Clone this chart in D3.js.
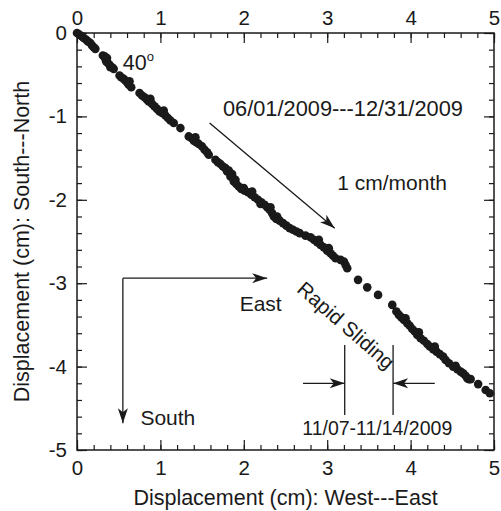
<!DOCTYPE html>
<html>
<head>
<meta charset="utf-8">
<script src="https://cdn.jsdelivr.net/npm/d3@7"></script>
<style>
  body { margin: 0; background: #fff; }
  text { font-family: 'Liberation Sans', Arial, Helvetica, sans-serif; fill: #1a1a1a; }
</style>
</head>
<body>
<script>
// displacement (cm)
const eastCm = [
  0.00, 0.03, 0.06, 0.08, 0.11, 0.13, 0.16, 0.18, 0.20, 0.22,
  0.31, 0.33, 0.34, 0.35, 0.36, 0.37, 0.39, 0.40, 0.42, 0.44,
  0.51, 0.53, 0.56, 0.58, 0.60, 0.62, 0.63, 0.65,
  0.75, 0.78, 0.81, 0.84, 0.86, 0.88, 0.90, 0.93, 0.96, 0.99, 1.02, 1.04, 1.06, 1.09, 1.12,
  1.16, 1.24,
  1.34, 1.37, 1.40, 1.42, 1.43, 1.46, 1.50, 1.53, 1.56, 1.58,
  1.66, 1.69, 1.72, 1.75, 1.78, 1.80, 1.82, 1.84, 1.86, 1.87, 1.88, 1.90, 1.91, 1.94, 1.97,
  2.00, 2.01, 2.05, 2.09, 2.10, 2.13, 2.17, 2.20, 2.21, 2.25, 2.28, 2.31, 2.32, 2.34, 2.36, 2.39,
  2.40, 2.43, 2.47, 2.51, 2.55, 2.59, 2.63, 2.67, 2.74, 2.80, 2.84, 2.88, 2.90, 2.92,
  2.96, 3.00, 3.02, 3.04, 3.07, 3.10, 3.16, 3.20, 3.22, 3.24,
  3.37, 3.48, 3.61, 3.78,
  3.83, 3.86, 3.89, 3.92, 3.94, 3.96, 3.99, 4.02, 4.05, 4.08, 4.10, 4.12, 4.16, 4.20,
  4.23, 4.27, 4.29, 4.31, 4.35, 4.39, 4.42, 4.46, 4.51, 4.54, 4.56, 4.60, 4.63, 4.66,
  4.68, 4.70, 4.72, 4.81, 4.90, 4.95
];
const northCm = [
  0.00, -0.02, -0.04, -0.06, -0.08, -0.10, -0.12, -0.15, -0.17, -0.19,
  -0.27, -0.28, -0.31, -0.34, -0.30, -0.36, -0.38, -0.41, -0.41, -0.43,
  -0.51, -0.53, -0.55, -0.57, -0.59, -0.62, -0.58, -0.65,
  -0.72, -0.75, -0.77, -0.80, -0.82, -0.79, -0.85, -0.88, -0.91, -0.94, -0.96, -0.93, -0.99, -1.02, -1.05,
  -1.08, -1.14,
  -1.24, -1.26, -1.29, -1.25, -1.31, -1.33, -1.36, -1.40, -1.43, -1.46,
  -1.52, -1.55, -1.57, -1.60, -1.62, -1.66, -1.65, -1.72, -1.69, -1.74, -1.78, -1.76, -1.81, -1.84, -1.87,
  -1.86, -1.89, -1.91, -1.94, -1.90, -1.97, -2.00, -2.05, -2.03, -2.06, -2.09, -2.12, -2.09, -2.16, -2.20, -2.23,
  -2.20, -2.25, -2.28, -2.31, -2.34, -2.36, -2.38, -2.40, -2.43, -2.45, -2.48, -2.51, -2.48, -2.54,
  -2.57, -2.61, -2.58, -2.64, -2.67, -2.70, -2.72, -2.74, -2.78, -2.82,
  -2.96, -3.05, -3.14, -3.26,
  -3.34, -3.38, -3.41, -3.44, -3.42, -3.48, -3.51, -3.55, -3.58, -3.62, -3.59, -3.66, -3.69, -3.73,
  -3.76, -3.79, -3.76, -3.82, -3.85, -3.88, -3.92, -3.96, -4.00, -3.99, -4.03, -4.06, -4.08, -4.11,
  -4.14, -4.15, -4.15, -4.21, -4.28, -4.32
];

const xTicks = [0, 1, 2, 3, 4, 5];
const yTicks = [0, -1, -2, -3, -4, -5];

const width = 501;
const height = 511;
const plotL = 77, plotR = 494, plotT = 33, plotB = 450;

const svg = d3.select('body').append('svg')
  .attr('width', width)
  .attr('height', height);

const x = d3.scaleLinear().domain([0, 5]).range([plotL, plotR]);
const y = d3.scaleLinear().domain([-5, 0]).range([plotB, plotT]);

// arrow heads
const defs = svg.append('defs');
defs.append('marker')
  .attr('id', 'head')
  .attr('markerUnits', 'userSpaceOnUse')
  .attr('viewBox', '-16 -6 17 12')
  .attr('markerWidth', 17)
  .attr('markerHeight', 12)
  .attr('refX', 0)
  .attr('refY', 0)
  .attr('orient', 'auto')
  .append('path')
  .attr('d', 'M0,0 L-15,-5 L-11,0 L-15,5 Z')
  .attr('fill', '#1a1a1a');

// axes, ticks pointing inward
const minorX = x.ticks(25);
const minorY = y.ticks(25);

function styleAxis(g) {
  g.selectAll('.domain').remove();
  g.selectAll('line').attr('stroke', '#1a1a1a').attr('stroke-width', 1.2);
  g.selectAll('text').attr('font-size', 20.5).attr('fill', '#1a1a1a');
}

svg.append('g').attr('transform', `translate(0,${plotB})`)
  .call(d3.axisBottom(x).tickValues(minorX).tickSize(-5).tickFormat(''))
  .call(styleAxis);
svg.append('g').attr('transform', `translate(0,${plotB})`)
  .call(d3.axisBottom(x).tickValues(xTicks).tickSize(-10).tickPadding(10).tickFormat(d3.format('d')))
  .call(styleAxis);

svg.append('g').attr('transform', `translate(0,${plotT})`)
  .call(d3.axisTop(x).tickValues(minorX).tickSize(-5).tickFormat(''))
  .call(styleAxis);
svg.append('g').attr('transform', `translate(0,${plotT})`)
  .call(d3.axisTop(x).tickValues(xTicks).tickSize(-10).tickPadding(8).tickFormat(d3.format('d')))
  .call(styleAxis);

svg.append('g').attr('transform', `translate(${plotL},0)`)
  .call(d3.axisLeft(y).tickValues(minorY).tickSize(-5).tickFormat(''))
  .call(styleAxis);
svg.append('g').attr('transform', `translate(${plotL},0)`)
  .call(d3.axisLeft(y).tickValues(yTicks).tickSize(-10).tickPadding(10).tickFormat(d => d === 0 ? '0' : '-' + Math.abs(d)))
  .call(styleAxis);

svg.append('g').attr('transform', `translate(${plotR},0)`)
  .call(d3.axisRight(y).tickValues(minorY).tickSize(-5).tickFormat(''))
  .call(styleAxis);
svg.append('g').attr('transform', `translate(${plotR},0)`)
  .call(d3.axisRight(y).tickValues(yTicks).tickSize(-10).tickFormat(''))
  .call(styleAxis);

// frame
svg.append('rect')
  .attr('x', plotL).attr('y', plotT)
  .attr('width', plotR - plotL).attr('height', plotB - plotT)
  .attr('fill', 'none')
  .attr('stroke', '#1a1a1a')
  .attr('stroke-width', 1.5);

// axis titles
svg.append('text')
  .attr('x', (plotL + plotR) / 2)
  .attr('y', 505)
  .attr('text-anchor', 'middle')
  .attr('font-size', 21.5)
  .text('Displacement (cm): West---East');

svg.append('text')
  .attr('transform', `translate(29,${(plotT + plotB) / 2}) rotate(-90)`)
  .attr('text-anchor', 'middle')
  .attr('font-size', 21.5)
  .text('Displacement (cm): South---North');

// points
svg.append('g').selectAll('circle')
  .data(eastCm.map((e, i) => [e, northCm[i]]))
  .enter().append('circle')
  .attr('cx', d => x(d[0]))
  .attr('cy', d => y(d[1]))
  .attr('r', 4.3)
  .attr('fill', '#1a1a1a');

// annotations
const ann = svg.append('g');

const deg = ann.append('text')
  .attr('x', x(0.55))
  .attr('y', y(-0.44))
  .attr('font-size', 21.5);
deg.append('tspan').text('40');
deg.append('tspan').attr('font-size', 13).attr('dy', -9).text('o');

ann.append('text')
  .attr('x', x(1.75))
  .attr('y', y(-0.99))
  .attr('font-size', 21.8)
  .text('06/01/2009---12/31/2009');

ann.append('line')
  .attr('x1', x(1.59)).attr('y1', y(-1.08))
  .attr('x2', x(3.09)).attr('y2', y(-2.34))
  .attr('stroke', '#1a1a1a').attr('stroke-width', 1.3)
  .attr('marker-end', 'url(#head)');

ann.append('text')
  .attr('x', x(3.12))
  .attr('y', y(-1.88))
  .attr('font-size', 21)
  .text('1 cm/month');

// direction key
ann.append('line')
  .attr('x1', x(0.55)).attr('y1', y(-2.94))
  .attr('x2', x(2.28)).attr('y2', y(-2.94))
  .attr('stroke', '#1a1a1a').attr('stroke-width', 1.3)
  .attr('marker-end', 'url(#head)');
ann.append('line')
  .attr('x1', x(0.55)).attr('y1', y(-2.94))
  .attr('x2', x(0.55)).attr('y2', y(-4.68))
  .attr('stroke', '#1a1a1a').attr('stroke-width', 1.3)
  .attr('marker-end', 'url(#head)');
ann.append('text')
  .attr('x', x(1.95))
  .attr('y', y(-3.33))
  .attr('font-size', 21)
  .text('East');
ann.append('text')
  .attr('x', x(0.76))
  .attr('y', y(-4.70))
  .attr('font-size', 21)
  .text('South');

// rapid sliding window
ann.append('text')
  .attr('transform', `translate(${x(3.17)},${y(-3.57)}) rotate(41)`)
  .attr('text-anchor', 'middle')
  .attr('font-size', 20.5)
  .text('Rapid Sliding');

[3.21, 3.79].forEach(v => {
  ann.append('line')
    .attr('x1', x(v)).attr('y1', y(-3.74))
    .attr('x2', x(v)).attr('y2', y(-4.58))
    .attr('stroke', '#1a1a1a').attr('stroke-width', 1.3);
});
ann.append('line')
  .attr('x1', x(2.71)).attr('y1', y(-4.20))
  .attr('x2', x(3.21)).attr('y2', y(-4.20))
  .attr('stroke', '#1a1a1a').attr('stroke-width', 1.3)
  .attr('marker-end', 'url(#head)');
ann.append('line')
  .attr('x1', x(4.29)).attr('y1', y(-4.20))
  .attr('x2', x(3.79)).attr('y2', y(-4.20))
  .attr('stroke', '#1a1a1a').attr('stroke-width', 1.3)
  .attr('marker-end', 'url(#head)');

ann.append('text')
  .attr('x', x(3.6))
  .attr('y', y(-4.82))
  .attr('text-anchor', 'middle')
  .attr('font-size', 19.5)
  .text('11/07-11/14/2009');
</script>
</body>
</html>
